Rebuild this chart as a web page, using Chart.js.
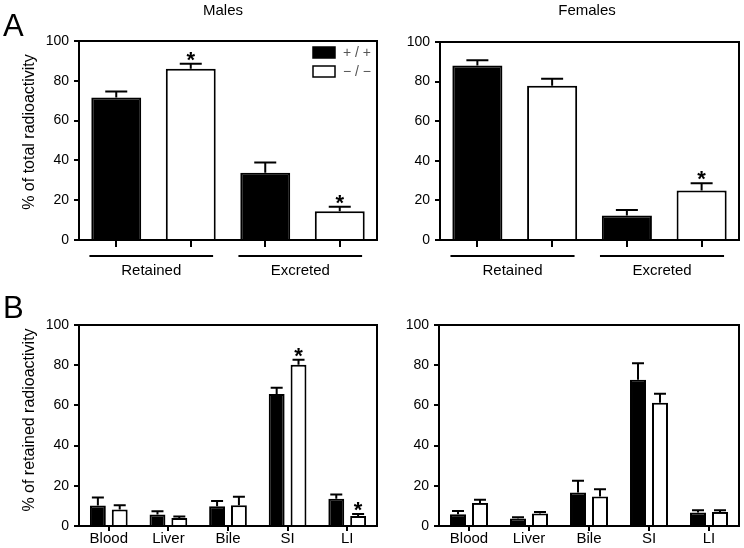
<!DOCTYPE html>
<html>
<head>
<meta charset="utf-8">
<script src="https://cdn.jsdelivr.net/npm/chart.js@4.4.0/dist/chart.umd.min.js"></script>
<style>
  body { margin: 0; background: #fff; }
  #wrap { position: relative; width: 744px; height: 548px; overflow: hidden; }
  .panel { position: absolute; }
</style>
</head>
<body>
<div id="wrap">
  <div class="panel" style="left:0;top:0;width:380px;height:290px"><canvas id="maleTotal"></canvas></div>
  <div class="panel" style="left:370px;top:0;width:374px;height:290px"><canvas id="femaleTotal"></canvas></div>
  <div class="panel" style="left:0;top:280px;width:380px;height:268px"><canvas id="maleRetained"></canvas></div>
  <div class="panel" style="left:370px;top:280px;width:374px;height:268px"><canvas id="femaleRetained"></canvas></div>
</div>
<script>
// ---- data ----
const genotypes = ['+ / +', '\u2212 / \u2212'];
const fates = ['Retained', 'Excreted'];
const tissues = ['Blood', 'Liver', 'Bile', 'SI', 'LI'];
const yTicks = [0, 20, 40, 60, 80, 100];

// panel A: % of total radioactivity (mean, SEM)
const maleTotalWT = [71.6, 33.8];
const maleTotalWTErr = [3.0, 5.2];
const maleTotalKO = [86.0, 14.4];
const maleTotalKOErr = [2.6, 2.3];
const femaleTotalWT = [88.1, 12.4];
const femaleTotalWTErr = [2.7, 2.7];
const femaleTotalKO = [77.9, 25.0];
const femaleTotalKOErr = [3.6, 3.7];

// panel B: % of retained radioactivity (mean, SEM)
const maleRetWT = [10.2, 5.7, 9.8, 65.7, 13.5];
const maleRetWTErr = [4.0, 1.6, 2.7, 3.1, 2.2];
const maleRetKO = [8.2, 4.0, 10.3, 80.2, 5.0];
const maleRetKOErr = [2.1, 0.7, 4.2, 2.5, 1.0];
const femaleRetWT = [5.8, 3.7, 16.7, 72.7, 6.7];
const femaleRetWTErr = [1.7, 0.6, 5.8, 8.3, 1.1];
const femaleRetKO = [11.5, 6.2, 14.7, 61.3, 7.0];
const femaleRetKOErr = [1.5, 0.8, 3.6, 4.5, 0.8];

// significant -/- vs +/+ (indexes into the -/- series)
const maleTotalStars = [0, 1];
const femaleTotalStars = [1];
const maleRetStars = [3, 4];
const femaleRetStars = [];

const FONT = 'Arial, "Liberation Sans", sans-serif';

// spread two groups into 4 single bar slots: WT, KO, WT, KO
function spread(values, which) {
    const out = [];
    values.forEach(v => {
        out.push(which === 0 ? v : null);
        out.push(which === 1 ? v : null);
    });
    return out;
}

// error bars, stars, frame and extra text
const extras = {
    id: 'extras',
    afterDatasetsDraw(chart) {
        const ctx = chart.ctx;
        const o = chart.options.plugins.extras;
        const y = chart.scales.y;
        ctx.save();
        ctx.strokeStyle = '#000';
        ctx.lineWidth = 2;
        chart.data.datasets.forEach((ds, di) => {
            const meta = chart.getDatasetMeta(di);
            ds.data.forEach((v, i) => {
                if (v === null) return;
                const bar = meta.data[i];
                const top = y.getPixelForValue(v + ds.errors[i]);
                ctx.beginPath();
                ctx.moveTo(bar.x, bar.y);
                ctx.lineTo(bar.x, top);
                ctx.moveTo(bar.x - o.cap / 2, top);
                ctx.lineTo(bar.x + o.cap / 2, top);
                ctx.stroke();
                if (ds.stars && ds.stars.includes(i)) {
                    ctx.fillStyle = '#000';
                    ctx.font = 'bold 22px ' + FONT;
                    ctx.textAlign = 'center';
                    ctx.textBaseline = 'alphabetic';
                    ctx.fillText('*', bar.x, top + 3);
                }
            });
        });
        ctx.restore();
    },
    afterDraw(chart) {
        const ctx = chart.ctx;
        const o = chart.options.plugins.extras;
        const a = chart.chartArea;
        const x = chart.scales.x;
        ctx.save();
        ctx.strokeStyle = '#000';
        ctx.lineWidth = 2;
        ctx.strokeRect(a.left, a.top, a.right - a.left, a.bottom - a.top);
        ctx.fillStyle = '#000';
        if (o.title) {
            ctx.font = '15px ' + FONT;
            ctx.textAlign = 'center';
            ctx.textBaseline = 'middle';
            ctx.fillText(o.title, o.titleX, 11);
        }
        if (o.letter) {
            ctx.font = '31px ' + FONT;
            ctx.textAlign = 'left';
            ctx.textBaseline = 'alphabetic';
            ctx.fillText(o.letter, 3, o.letterY);
        }
        if (o.yTitle) {
            ctx.save();
            ctx.translate(30, o.yTitleY);
            ctx.rotate(-Math.PI / 2);
            ctx.font = '16px ' + FONT;
            ctx.textAlign = 'center';
            ctx.textBaseline = 'middle';
            ctx.fillText(o.yTitle, 0, 0);
            ctx.restore();
        }
        if (o.groups) {
            // underline each pair of bars and name it
            const step = x.getPixelForValue(1) - x.getPixelForValue(0);
            o.groups.forEach((g, gi) => {
                const x0 = x.getPixelForValue(gi * 2) - step * 0.36;
                const x1 = x.getPixelForValue(gi * 2 + 1) + step * 0.3;
                ctx.beginPath();
                ctx.moveTo(x0, a.bottom + 16);
                ctx.lineTo(x1, a.bottom + 16);
                ctx.stroke();
                ctx.font = '15px ' + FONT;
                ctx.textAlign = 'center';
                ctx.textBaseline = 'middle';
                ctx.fillText(g, (x0 + x1) / 2, a.bottom + 31);
            });
        }
        if (o.legend) {
            const lx = a.right - 64;
            chart.data.datasets.forEach((ds, i) => {
                const ly = a.top + 6 + i * 19;
                ctx.fillStyle = ds.backgroundColor;
                ctx.fillRect(lx, ly, 22, 11);
                ctx.lineWidth = 1.5;
                ctx.strokeRect(lx, ly, 22, 11);
                ctx.fillStyle = '#555';
                ctx.font = '14px ' + FONT;
                ctx.textAlign = 'left';
                ctx.textBaseline = 'middle';
                ctx.fillText(ds.label, lx + 30, ly + 6);
            });
        }
        ctx.restore();
    }
};

function makeChart(id, cfg) {
    const top = cfg.kind === 'total';
    const labels = top ? ['', '', '', ''] : tissues;
    const datasets = [
        {
            label: genotypes[0],
            data: top ? spread(cfg.wt, 0) : cfg.wt,
            errors: top ? spread(cfg.wtErr, 0) : cfg.wtErr,
            backgroundColor: '#000',
            borderColor: '#000',
            borderWidth: 2
        },
        {
            label: genotypes[1],
            data: top ? spread(cfg.ko, 1) : cfg.ko,
            errors: top ? spread(cfg.koErr, 1) : cfg.koErr,
            stars: top ? cfg.stars.map(i => i * 2 + 1) : cfg.stars,
            backgroundColor: '#fff',
            borderColor: '#000',
            borderWidth: 2
        }
    ];
    return new Chart(document.getElementById(id), {
        type: 'bar',
        data: { labels: labels, datasets: datasets },
        options: {
            responsive: true,
            maintainAspectRatio: false,
            animation: false,
            layout: { padding: { top: cfg.padTop, right: cfg.padRight, left: 0, bottom: 0 } },
            categoryPercentage: top ? 1 : 0.733,
            barPercentage: top ? 0.67 : 0.727,
            plugins: {
                legend: { display: false },
                tooltip: { enabled: false },
                extras: {
                    cap: top ? 22 : 12,
                    title: cfg.title,
                    titleX: cfg.titleX,
                    letter: cfg.letter,
                    letterY: cfg.letterY,
                    yTitle: cfg.yTitle,
                    yTitleY: cfg.yTitleY,
                    groups: top ? fates : null,
                    legend: cfg.legend
                }
            },
            scales: {
                x: {
                    stacked: top,
                    afterFit: s => { s.height = cfg.xHeight; },
                    border: { color: '#000', width: 2 },
                    grid: { display: true, drawOnChartArea: false, offset: false, tickLength: top ? 7 : 5, color: '#000', lineWidth: 2 },
                    ticks: { display: !top, color: '#000', padding: -1, font: { family: FONT, size: 15 } }
                },
                y: {
                    min: 0,
                    max: 100,
                    afterFit: s => { s.width = cfg.yWidth; },
                    afterBuildTicks: s => { s.ticks = yTicks.map(v => ({ value: v })); },
                    border: { color: '#000', width: 2 },
                    grid: { drawOnChartArea: false, tickLength: 5, color: '#000', lineWidth: 2 },
                    ticks: { color: '#000', padding: 5, font: { family: FONT, size: 14 } }
                }
            }
        },
        plugins: [extras]
    });
}

makeChart('maleTotal', {
    kind: 'total', wt: maleTotalWT, wtErr: maleTotalWTErr, ko: maleTotalKO, koErr: maleTotalKOErr,
    stars: maleTotalStars, title: 'Males', titleX: 223, letter: 'A', letterY: 36,
    yTitle: '% of total radioactivity', yTitleY: 132, legend: true,
    padTop: 41, padRight: 3, xHeight: 50, yWidth: 79
});
makeChart('femaleTotal', {
    kind: 'total', wt: femaleTotalWT, wtErr: femaleTotalWTErr, ko: femaleTotalKO, koErr: femaleTotalKOErr,
    stars: femaleTotalStars, title: 'Females', titleX: 217,
    padTop: 42, padRight: 5, xHeight: 50, yWidth: 70
});
makeChart('maleRetained', {
    kind: 'retained', wt: maleRetWT, wtErr: maleRetWTErr, ko: maleRetKO, koErr: maleRetKOErr,
    stars: maleRetStars, letter: 'B', letterY: 38,
    yTitle: '% of retained radioactivity', yTitleY: 140,
    padTop: 45, padRight: 3, xHeight: 22, yWidth: 79
});
makeChart('femaleRetained', {
    kind: 'retained', wt: femaleRetWT, wtErr: femaleRetWTErr, ko: femaleRetKO, koErr: femaleRetKOErr,
    stars: femaleRetStars,
    padTop: 45, padRight: 5, xHeight: 22, yWidth: 69
});
</script>
</body>
</html>
